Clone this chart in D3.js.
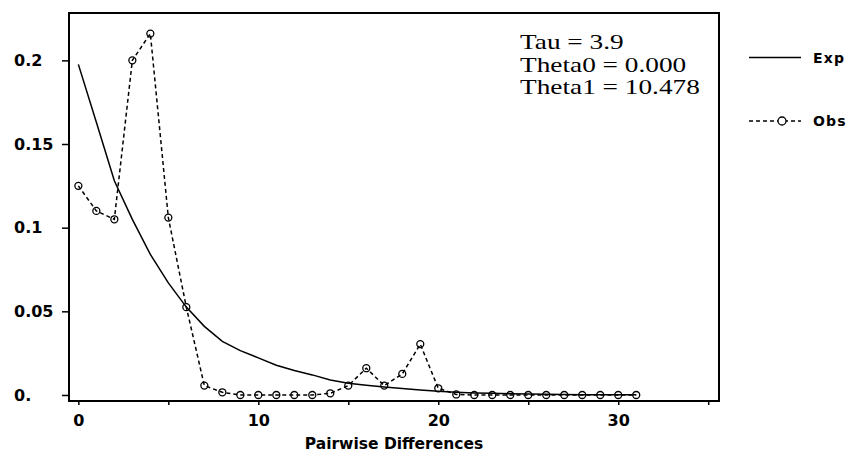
<!DOCTYPE html>
<html>
<head>
<meta charset="utf-8">
<script src="https://cdn.jsdelivr.net/npm/d3@7"></script>
<style>
  body { margin: 0; background: #fff; }
  .tick text, .lbl { font-family: "DejaVu Sans", sans-serif; font-weight: bold; fill: #000; }
</style>
</head>
<body>
<div id="chart-area"></div>
<script>
// data
var diffs = [0,1,2,3,4,5,6,7,8,9,10,11,12,13,14,15,16,17,18,19,20,21,22,23,24,25,26,27,28,29,30,31];
var obs = [0.125, 0.110, 0.105, 0.200, 0.216, 0.106, 0.0525, 0.0056, 0.0016, 0, 0, 0, 0, 0, 0.001, 0.0056,
           0.016, 0.0056, 0.0126, 0.0304, 0.004, 0.0003, 0, 0, 0, 0, 0, 0, 0, 0, 0, 0];
var expd = [0.1976, 0.163, 0.128, 0.105, 0.084, 0.067, 0.0525, 0.041, 0.032, 0.0265, 0.0222, 0.0178, 0.0146,
            0.012, 0.009, 0.007, 0.0058, 0.0047, 0.0038, 0.003, 0.0022, 0.0016, 0.0012, 0.001, 0.0008,
            0.0006, 0.0004, 0.0003, 0.0002, 0.0001, 0.0001, 0.0001];
var yTicks = [0, 0.05, 0.1, 0.15, 0.2];
var yLabels = ["0.", "0.05", "0.1", "0.15", "0.2"];
var xTicks = [0, 5, 10, 15, 20, 25, 30, 35];
var xLabels = ["0", "", "10", "", "20", "", "30", ""];
var statLines = ["Tau = 3.9", "Theta0 = 0.000", "Theta1 = 10.478"];
var legendNames = ["Exp", "Obs"];

var margin = { left: 69, right: 131, top: 13, bottom: 54 };
var width = 850 - margin.left - margin.right,
    height = 455 - margin.top - margin.bottom;

var svg = d3.select("#chart-area").append("svg")
    .attr("width", 850)
    .attr("height", 455);

var g = svg.append("g")
    .attr("transform", "translate(" + margin.left + "," + margin.top + ")");

var x = d3.scaleLinear().domain([-0.52, 35.6]).range([0, width]);
var y = d3.scaleLinear().domain([-0.0036, 0.2283]).range([height, 0]);

// axes
var xAxis = g.append("g")
    .attr("transform", "translate(0," + height + ")")
    .call(d3.axisBottom(x).tickValues(xTicks).tickSize(4)
        .tickFormat(function(d, i){ return xLabels[i]; }));
xAxis.select(".domain").remove();
xAxis.selectAll(".tick line").attr("stroke", "#000").attr("stroke-width", 1.5);
xAxis.selectAll(".tick text").attr("y", 25).attr("dy", 0).attr("font-size", "16px");

var yAxis = g.append("g")
    .call(d3.axisLeft(y).tickValues(yTicks).tickSize(7)
        .tickFormat(function(d, i){ return yLabels[i]; }));
yAxis.select(".domain").remove();
yAxis.selectAll(".tick line").attr("stroke", "#000").attr("stroke-width", 1.5);
yAxis.selectAll(".tick text")
    .attr("x", -55)
    .attr("text-anchor", "start")
    .attr("font-size", "16px");

// frame
g.append("rect")
    .attr("x", 0).attr("y", 0)
    .attr("width", width).attr("height", height)
    .attr("fill", "none")
    .attr("stroke", "#000")
    .attr("stroke-width", 2);

g.append("text")
    .attr("class", "lbl")
    .attr("x", width / 2)
    .attr("y", height + 48)
    .attr("text-anchor", "middle")
    .attr("font-size", "15.5px")
    .text("Pairwise Differences");

// lines
var line = d3.line()
    .x(function(d){ return x(d[0]); })
    .y(function(d){ return y(d[1]); });

g.append("path")
    .datum(diffs.map(function(d, i){ return [d, expd[i]]; }))
    .attr("d", line)
    .attr("fill", "none")
    .attr("stroke", "#000")
    .attr("stroke-width", 1.5);

var obsData = diffs.map(function(d, i){ return [d, obs[i]]; });
g.append("path")
    .datum(obsData)
    .attr("d", line)
    .attr("fill", "none")
    .attr("stroke", "#000")
    .attr("stroke-width", 1.5)
    .attr("stroke-dasharray", "4,3");

g.selectAll("circle.obs")
    .data(obsData)
    .enter()
    .append("circle")
        .attr("class", "obs")
        .attr("cx", function(d){ return x(d[0]); })
        .attr("cy", function(d){ return y(d[1]); })
        .attr("r", 3.5)
        .attr("fill", "none")
        .attr("stroke", "#000")
        .attr("stroke-width", 1.3);

// stats text (the original is a bit stretched sideways)
var st = svg.append("g")
    .attr("transform", "translate(520,0) scale(1.27,1)");
st.selectAll("text")
    .data(statLines)
    .enter()
    .append("text")
        .attr("x", 0)
        .attr("y", function(d, i){ return 49 + i * 22.7; })
        .attr("font-family", "'Liberation Serif', serif")
        .attr("font-size", "21.5px")
        .attr("fill", "#000")
        .text(function(d){ return d; });

// legend
var leg = svg.append("g");
leg.append("line")
    .attr("x1", 749).attr("x2", 801).attr("y1", 57.5).attr("y2", 57.5)
    .attr("stroke", "#000").attr("stroke-width", 1.5);
leg.append("line")
    .attr("x1", 749).attr("x2", 801).attr("y1", 121).attr("y2", 121)
    .attr("stroke", "#000").attr("stroke-width", 1.5)
    .attr("stroke-dasharray", "4,3");
leg.append("circle")
    .attr("cx", 782).attr("cy", 121).attr("r", 4)
    .attr("fill", "#fff").attr("stroke", "#000").attr("stroke-width", 1.3);
leg.selectAll("text")
    .data(legendNames)
    .enter()
    .append("text")
        .attr("class", "lbl")
        .attr("x", 813)
        .attr("y", function(d, i){ return i == 0 ? 63 : 126; })
        .attr("font-size", "14px")
        .attr("letter-spacing", "1.2px")
        .text(function(d){ return d; });
</script>
</body>
</html>
